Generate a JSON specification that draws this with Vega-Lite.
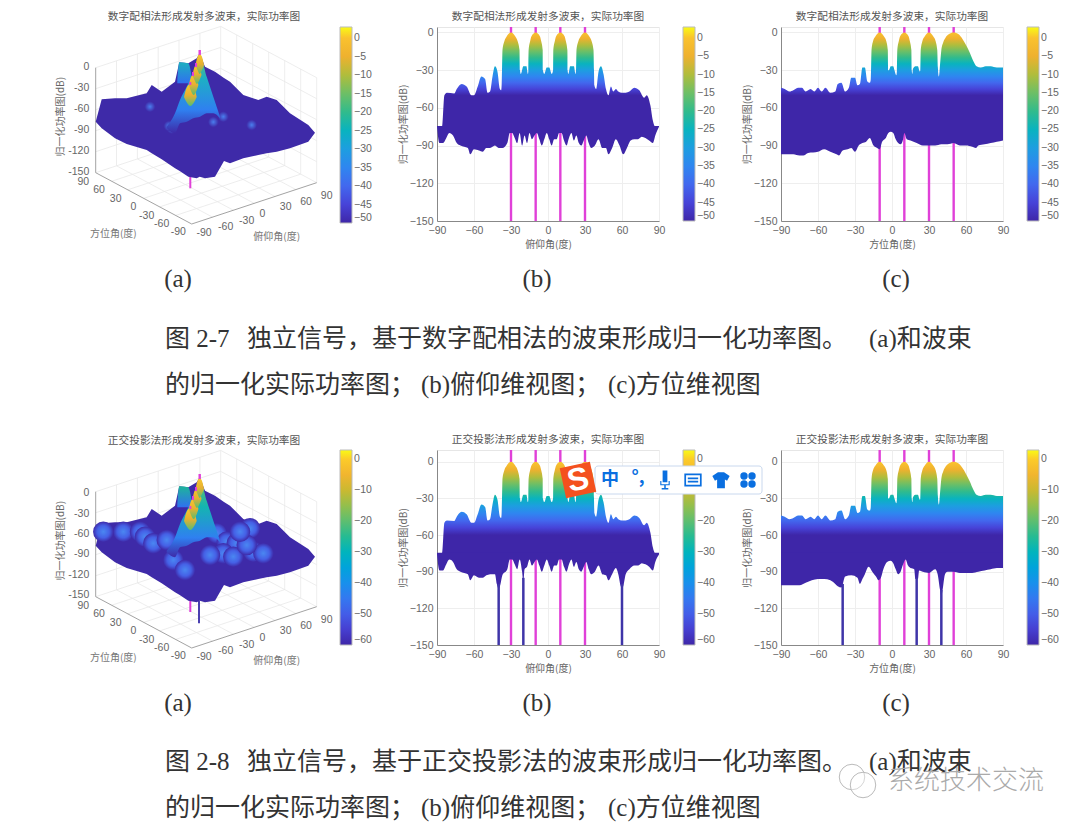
{"$schema":"https://vega.github.io/schema/vega-lite/v6.json","background":"white","padding":0,"autosize":{"type":"pad"},"spacing":{"row":0,"column":122},"columns":3,"bounds":"flush","resolve":{"scale":{"color":"independent"}},
"config":{"view":{"stroke":"#e6e6e6"},"axis":{"labelFont":"Liberation Sans","labelFontSize":10.5,"labelColor":"#666","titleFont":"Noto Sans CJK SC","titleFontSize":10,"titleFontWeight":"normal","titleColor":"#666","gridColor":"#eeeeee","domainColor":"#888","tickSize":0,"tickCount":12,"labelPadding":4,"labelOverlap":false,"labelFlush":false,"labelBound":false},"legend":{"labelFont":"Liberation Sans","labelFontSize":10.5,"labelColor":"#666","gradientStrokeColor":"#bbb","gradientStrokeWidth":1,"labelOverlap":false,"tickCount":12},"title":{"font":"Noto Sans CJK SC","fontSize":10.7,"fontWeight":"normal","color":"#555","anchor":"middle","offset":3}},
"datasets":{
"frameGrid":[{"x":82.7,"y":5.55,"x2":207.7,"y2":46.85},{"x":66.7,"y":14.1,"x2":191.7,"y2":55.4},{"x":50.7,"y":22.65,"x2":175.7,"y2":63.95},{"x":34.7,"y":31.2,"x2":159.7,"y2":72.5},{"x":18.7,"y":39.75,"x2":143.7,"y2":81.05},{"x":2.7,"y":48.3,"x2":127.7,"y2":89.6},{"x":119.5,"y":3.88,"x2":23.5,"y2":55.2},{"x":140.4,"y":10.77,"x2":44.4,"y2":62.07},{"x":161.2,"y":17.65,"x2":65.2,"y2":68.95},{"x":182,"y":24.53,"x2":86,"y2":75.83},{"x":202.9,"y":31.42,"x2":106.9,"y2":82.72},{"x":223.7,"y":38.3,"x2":127.7,"y2":89.6},{"x":23.5,"y":55.2,"x2":23.5,"y2":160.2},{"x":44.4,"y":62.07,"x2":44.4,"y2":167.07},{"x":65.2,"y":68.95,"x2":65.2,"y2":173.95},{"x":86,"y":75.83,"x2":86,"y2":180.83},{"x":106.9,"y":82.72,"x2":106.9,"y2":187.72},{"x":127.7,"y":89.6,"x2":127.7,"y2":194.6},{"x":207.7,"y":46.85,"x2":207.7,"y2":151.85},{"x":191.7,"y":55.4,"x2":191.7,"y2":160.4},{"x":175.7,"y":63.95,"x2":175.7,"y2":168.95},{"x":159.7,"y":72.5,"x2":159.7,"y2":177.5},{"x":143.7,"y":81.05,"x2":143.7,"y2":186.05},{"x":223.7,"y":38.3,"x2":223.7,"y2":143.3},{"x":2.7,"y":69.3,"x2":127.7,"y2":110.6},{"x":2.7,"y":90.3,"x2":127.7,"y2":131.6},{"x":2.7,"y":111.3,"x2":127.7,"y2":152.6},{"x":2.7,"y":132.3,"x2":127.7,"y2":173.6},{"x":2.7,"y":153.3,"x2":127.7,"y2":194.6},{"x":127.7,"y":110.6,"x2":223.7,"y2":59.3},{"x":127.7,"y":131.6,"x2":223.7,"y2":80.3},{"x":127.7,"y":152.6,"x2":223.7,"y2":101.3},{"x":127.7,"y":173.6,"x2":223.7,"y2":122.3},{"x":127.7,"y":194.6,"x2":223.7,"y2":143.3}],
"frameEdge":[{"x":98.7,"y":-3,"x2":2.7,"y2":48.3},{"x":98.7,"y":-3,"x2":223.7,"y2":38.3},{"x":2.7,"y":48.3,"x2":2.7,"y2":153.3}],
"surface":[{"x":2.7,"hi":99.3,"lo":99.3},{"x":8.7,"hi":121.7,"lo":92.7},{"x":22,"hi":122.7,"lo":82.7},{"x":33.7,"hi":122.7,"lo":77},{"x":53.7,"hi":127.7,"lo":71},{"x":58.7,"hi":136,"lo":67.7},{"x":68.7,"hi":129.3,"lo":61.7},{"x":82,"hi":139.3,"lo":52.7},{"x":86.3,"hi":158.7,"lo":50.3},{"x":95.3,"hi":157.7,"lo":44.3},{"x":103.7,"hi":162.7,"lo":42.7},{"x":106.7,"hi":167.7,"lo":44.3},{"x":112,"hi":154.3,"lo":42.7},{"x":122,"hi":149.3,"lo":44.3},{"x":131,"hi":143,"lo":60},{"x":137,"hi":139.3,"lo":57.7},{"x":150.3,"hi":126,"lo":62.7},{"x":165.3,"hi":121,"lo":66},{"x":173.7,"hi":124.3,"lo":67.7},{"x":183.7,"hi":121,"lo":69.3},{"x":197,"hi":107.7,"lo":72.7},{"x":215.3,"hi":96,"lo":79.3},{"x":222,"hi":88.3,"lo":88.3}],
"backRidge":[{"x":84.3,"hi":141,"lo":137.7},{"x":86.3,"hi":158.7,"lo":137.7},{"x":95.3,"hi":157.7,"lo":137.7},{"x":98.7,"hi":144.3,"lo":137.7}],
"wedge":[{"x":73.7,"hi":94.3,"lo":92.7},{"x":82,"hi":107.7,"lo":87.7},{"x":87,"hi":121,"lo":97.7},{"x":93.7,"hi":134.3,"lo":99.3},{"x":100.3,"hi":147.7,"lo":102.7},{"x":107,"hi":166,"lo":104.3},{"x":113.7,"hi":144.3,"lo":107.7},{"x":120.3,"hi":124.3,"lo":107.7},{"x":127,"hi":104.3,"lo":102.7}],
"peaks":[{"p":1,"x":91,"hi":124,"lo":124},{"p":1,"x":93.5,"hi":133,"lo":119},{"p":1,"x":97.3,"hi":137,"lo":115},{"p":1,"x":101.2,"hi":133,"lo":119},{"p":1,"x":103.7,"hi":124,"lo":124},{"p":2,"x":96,"hi":136,"lo":136},{"p":2,"x":98,"hi":144,"lo":130},{"p":2,"x":100.7,"hi":147,"lo":126},{"p":2,"x":103.4,"hi":144,"lo":130},{"p":2,"x":105.4,"hi":136,"lo":136},{"p":3,"x":99.5,"hi":146,"lo":146},{"p":3,"x":101.5,"hi":154,"lo":141},{"p":3,"x":104,"hi":157,"lo":137},{"p":3,"x":106.5,"hi":154,"lo":141},{"p":3,"x":108.5,"hi":146,"lo":146},{"p":4,"x":102.5,"hi":156,"lo":156},{"p":4,"x":104.5,"hi":164,"lo":151},{"p":4,"x":106.7,"hi":167,"lo":147},{"p":4,"x":109,"hi":164,"lo":151},{"p":4,"x":111,"hi":156,"lo":156}],
"marks3d":[{"x":106.7,"y":166,"y2":171},{"x":103,"y":154,"y2":158},{"x":100,"y":145,"y2":149},{"x":97.3,"y":136,"y2":139}],
"labels3d":[{"x":-9.7,"y":38.7,"t":"90"},{"x":6,"y":31,"t":"60"},{"x":22.7,"y":22,"t":"30"},{"x":40.3,"y":14,"t":"0"},{"x":53.7,"y":5.3,"t":"-30"},{"x":68.7,"y":-3,"t":"-60"},{"x":85.3,"y":-11.3,"t":"-90"},{"x":111,"y":-12.3,"t":"-90"},{"x":132.7,"y":-5.7,"t":"-60"},{"x":153.7,"y":0.3,"t":"-30"},{"x":169.3,"y":7,"t":"0"},{"x":192.7,"y":13.7,"t":"30"},{"x":213,"y":19.3,"t":"60"},{"x":233.7,"y":25.3,"t":"90"}],
"titles3d":[{"x":20.3,"y":-13.3,"t":"方位角(度)"},{"x":183.7,"y":-16.3,"t":"俯仰角(度)"}],
"z1":[{"x":-3.7,"y":154.3,"t":"0"},{"x":-3.7,"y":133.3,"t":"-30"},{"x":-3.7,"y":112,"t":"-60"},{"x":-3.7,"y":91,"t":"-90"},{"x":-3.7,"y":70,"t":"-120"},{"x":-3.7,"y":49.3,"t":"-150"}],
"z2":[{"x":-3.7,"y":151.7,"t":"0"},{"x":-3.7,"y":130.7,"t":"-30"},{"x":-3.7,"y":110.7,"t":"-60"},{"x":-3.7,"y":90.7,"t":"-90"},{"x":-3.7,"y":69.7,"t":"-120"},{"x":-3.7,"y":50,"t":"-150"}],
"ztitle":[{"x":-32,"y":104.3,"t":"归一化功率图(dB)"}],
"bumps1":[{"x":78.7,"y":92.7},{"x":76,"y":95},{"x":158.7,"y":96},{"x":120.3,"y":99},{"x":130.3,"y":104.3},{"x":57,"y":114.3}],
"bumps2":[{"x":10.3,"y":113.3},{"x":30.3,"y":113.3},{"x":47,"y":113.3},{"x":52,"y":108.3},{"x":60.3,"y":101.7},{"x":73.7,"y":105},{"x":80.3,"y":85},{"x":92,"y":75},{"x":123.7,"y":111.7},{"x":133.7,"y":103.3},{"x":143.7,"y":101.7},{"x":157,"y":116.7},{"x":160.3,"y":93.3},{"x":170.3,"y":91.7},{"x":130.3,"y":91.7},{"x":140.3,"y":88.3},{"x":153.7,"y":100},{"x":117,"y":90},{"x":147,"y":113.3}],
"legend1":[{"v":-50},{"v":3}],
"legend2":[{"v":-60},{"v":3}],
"beamsB":[{"x":-30},{"x":-10},{"x":10},{"x":30}],
"beamsC":[{"x":-10},{"x":10},{"x":30},{"x":50}],
"upB":[{"x":-90,"y":-75},{"x":-86,"y":-75},{"x":-84,"y":-50},{"x":-82,"y":-48},{"x":-76,"y":-48.5},{"x":-74,"y":-45},{"x":-70,"y":-41},{"x":-66,"y":-43},{"x":-62,"y":-50},{"x":-60,"y":-50},{"x":-57,"y":-43},{"x":-54,"y":-35},{"x":-51,"y":-37},{"x":-49,"y":-48},{"x":-47,"y":-47},{"x":-45,"y":-35},{"x":-43,"y":-27},{"x":-41,"y":-31},{"x":-39,"y":-45},{"x":-38,"y":-46},{"x":-37.6,"y":-42},{"x":-37.3,"y":-30},{"x":-36.9,"y":-14},{"x":-35.4,"y":-7},{"x":-33.4,"y":-3},{"x":-30,"y":0},{"x":-26.6,"y":-3},{"x":-24.6,"y":-7},{"x":-23.1,"y":-14},{"x":-22.7,"y":-30},{"x":-22,"y":-33},{"x":-20,"y":-27},{"x":-17.5,"y":-27},{"x":-16.3,"y":-33},{"x":-15.9,"y":-30},{"x":-15.7,"y":-14},{"x":-14.5,"y":-7},{"x":-13.4,"y":-3},{"x":-10,"y":0},{"x":-6.6,"y":-3},{"x":-5.5,"y":-7},{"x":-4.3,"y":-14},{"x":-4.1,"y":-30},{"x":-3,"y":-33},{"x":-1,"y":-28},{"x":1,"y":-28},{"x":3,"y":-33},{"x":4.1,"y":-30},{"x":4.3,"y":-14},{"x":5.5,"y":-7},{"x":6.6,"y":-3},{"x":10,"y":0},{"x":13.4,"y":-3},{"x":14.5,"y":-7},{"x":15.7,"y":-14},{"x":15.9,"y":-30},{"x":16.5,"y":-33},{"x":18,"y":-27},{"x":21,"y":-27},{"x":22.3,"y":-33},{"x":22.7,"y":-30},{"x":23.1,"y":-14},{"x":24.6,"y":-7},{"x":26.6,"y":-3},{"x":30,"y":0},{"x":33.4,"y":-3},{"x":35.4,"y":-7},{"x":36.9,"y":-14},{"x":37.3,"y":-30},{"x":37.6,"y":-42},{"x":39,"y":-45},{"x":41,"y":-31},{"x":43,"y":-27},{"x":45,"y":-33},{"x":47,"y":-45},{"x":49,"y":-50},{"x":51,"y":-43},{"x":53,"y":-47},{"x":55,"y":-45},{"x":57,"y":-47},{"x":60,"y":-48},{"x":63,"y":-48},{"x":66,"y":-47},{"x":70,"y":-44},{"x":74,"y":-46},{"x":78,"y":-52},{"x":80,"y":-50},{"x":83,"y":-58},{"x":85,"y":-70},{"x":87,"y":-75},{"x":90,"y":-75}],
"upC":[{"x":-90,"y":-44},{"x":-87,"y":-45},{"x":-83,"y":-47},{"x":-80,"y":-46},{"x":-76,"y":-44},{"x":-73,"y":-44},{"x":-70,"y":-47},{"x":-66,"y":-45},{"x":-63,"y":-47},{"x":-60,"y":-44},{"x":-57,"y":-47},{"x":-54,"y":-44},{"x":-50,"y":-48},{"x":-46,"y":-47},{"x":-44,"y":-41},{"x":-41,"y":-40},{"x":-38,"y":-47},{"x":-35,"y":-44},{"x":-33,"y":-36},{"x":-30,"y":-36},{"x":-28,"y":-42},{"x":-26,"y":-41},{"x":-24,"y":-28},{"x":-22,"y":-28},{"x":-20,"y":-39},{"x":-18,"y":-40},{"x":-17.3,"y":-38},{"x":-17,"y":-30},{"x":-16.6,"y":-14},{"x":-15.4,"y":-7},{"x":-13.4,"y":-3},{"x":-10,"y":0},{"x":-6.6,"y":-3},{"x":-4.6,"y":-7},{"x":-3.4,"y":-14},{"x":-3,"y":-30},{"x":-2.5,"y":-30},{"x":-1,"y":-27},{"x":1,"y":-27},{"x":2,"y":-30},{"x":3.5,"y":-34},{"x":4,"y":-30},{"x":4.3,"y":-14},{"x":5.5,"y":-7},{"x":6.6,"y":-3},{"x":10,"y":0},{"x":13.4,"y":-3},{"x":14.5,"y":-7},{"x":15.7,"y":-14},{"x":16,"y":-30},{"x":16.5,"y":-33},{"x":17,"y":-29},{"x":19,"y":-27},{"x":21,"y":-27},{"x":22.5,"y":-31},{"x":23,"y":-30},{"x":23.3,"y":-14},{"x":24.6,"y":-7},{"x":26.6,"y":-3},{"x":30,"y":0},{"x":33.4,"y":-3},{"x":35.4,"y":-7},{"x":36.7,"y":-14},{"x":37.2,"y":-28},{"x":38,"y":-35},{"x":39,"y":-25},{"x":40,"y":-14},{"x":41.5,"y":-8},{"x":43.5,"y":-4},{"x":46,"y":-1.5},{"x":50,"y":0},{"x":54,"y":-1.5},{"x":57,"y":-5},{"x":60,"y":-10},{"x":63,"y":-16},{"x":66,"y":-23},{"x":68.5,"y":-27},{"x":72,"y":-28},{"x":76,"y":-27},{"x":80,"y":-27},{"x":85,"y":-28},{"x":90,"y":-28}],
"loB1":[{"x":-90,"y":-75},{"x":-88,"y":-88},{"x":-85,"y":-88},{"x":-83,"y":-85},{"x":-80,"y":-80},{"x":-77,"y":-82},{"x":-74,"y":-88},{"x":-71,"y":-90},{"x":-68,"y":-91},{"x":-65,"y":-92},{"x":-63,"y":-97},{"x":-60,"y":-93},{"x":-56,"y":-94},{"x":-53,"y":-95},{"x":-50,"y":-92},{"x":-47,"y":-92},{"x":-43,"y":-90},{"x":-40,"y":-92},{"x":-37,"y":-92},{"x":-33,"y":-88},{"x":-31,"y":-80},{"x":-29,"y":-80},{"x":-27,"y":-84},{"x":-25,"y":-88},{"x":-23,"y":-80},{"x":-21,"y":-90},{"x":-19,"y":-82},{"x":-17,"y":-88},{"x":-15,"y":-80},{"x":-13,"y":-85},{"x":-11,"y":-82},{"x":-9,"y":-80},{"x":-7,"y":-85},{"x":-5,"y":-90},{"x":-3,"y":-85},{"x":-1,"y":-80},{"x":1,"y":-85},{"x":3,"y":-90},{"x":5,"y":-85},{"x":7,"y":-85},{"x":9,"y":-80},{"x":11,"y":-80},{"x":13,"y":-86},{"x":15,"y":-90},{"x":17,"y":-84},{"x":19,"y":-80},{"x":21,"y":-86},{"x":23,"y":-82},{"x":25,"y":-88},{"x":27,"y":-90},{"x":29,"y":-86},{"x":31,"y":-82},{"x":33,"y":-88},{"x":35,"y":-92},{"x":38,"y":-90},{"x":41,"y":-85},{"x":44,"y":-92},{"x":47,"y":-92},{"x":49,"y":-97},{"x":52,"y":-92},{"x":55,"y":-85},{"x":58,"y":-90},{"x":61,"y":-97},{"x":64,"y":-92},{"x":67,"y":-86},{"x":70,"y":-85},{"x":73,"y":-85},{"x":76,"y":-83},{"x":79,"y":-84},{"x":82,"y":-86},{"x":85,"y":-88},{"x":87,"y":-82},{"x":90,"y":-75}],
"loC1":[{"x":-90,"y":-97},{"x":-80,"y":-97},{"x":-75,"y":-98},{"x":-72,"y":-98},{"x":-68,"y":-96},{"x":-60,"y":-95},{"x":-55,"y":-93},{"x":-50,"y":-95},{"x":-45,"y":-97},{"x":-43,"y":-98},{"x":-40,"y":-94},{"x":-36,"y":-93},{"x":-33,"y":-92},{"x":-30,"y":-95},{"x":-27,"y":-90},{"x":-24,"y":-88},{"x":-21,"y":-87},{"x":-18,"y":-84},{"x":-15,"y":-90},{"x":-12,"y":-92},{"x":-10,"y":-93},{"x":-8,"y":-87},{"x":-5,"y":-84},{"x":-3,"y":-80},{"x":-1,"y":-79},{"x":1,"y":-80},{"x":3,"y":-85},{"x":5,"y":-88},{"x":7,"y":-89},{"x":9,"y":-85},{"x":10,"y":-80},{"x":12,"y":-85},{"x":15,"y":-86},{"x":20,"y":-88},{"x":25,"y":-90},{"x":30,"y":-90},{"x":35,"y":-90},{"x":40,"y":-89},{"x":45,"y":-89},{"x":50,"y":-88},{"x":55,"y":-90},{"x":60,"y":-90},{"x":65,"y":-91},{"x":68,"y":-92},{"x":70,"y":-90},{"x":75,"y":-89},{"x":80,"y":-88},{"x":85,"y":-87},{"x":90,"y":-86}],
"loB2":[{"x":-90,"y":-76},{"x":-88,"y":-89},{"x":-85,"y":-89},{"x":-83,"y":-85},{"x":-80,"y":-80},{"x":-77,"y":-82},{"x":-74,"y":-88},{"x":-71,"y":-90},{"x":-68,"y":-91},{"x":-65,"y":-92},{"x":-63,"y":-97},{"x":-60,"y":-93},{"x":-56,"y":-95},{"x":-53,"y":-95},{"x":-50,"y":-93},{"x":-47,"y":-92},{"x":-43,"y":-92},{"x":-41.5,"y":-100},{"x":-40,"y":-104},{"x":-38.5,"y":-100},{"x":-37,"y":-93},{"x":-33,"y":-88},{"x":-31,"y":-80},{"x":-29,"y":-80},{"x":-27,"y":-84},{"x":-25,"y":-88},{"x":-23,"y":-80},{"x":-21,"y":-90},{"x":-20,"y":-98},{"x":-19,"y":-88},{"x":-17,"y":-86},{"x":-15,"y":-80},{"x":-13,"y":-85},{"x":-11,"y":-82},{"x":-9,"y":-80},{"x":-7,"y":-85},{"x":-5,"y":-90},{"x":-3,"y":-85},{"x":-1,"y":-80},{"x":1,"y":-85},{"x":3,"y":-90},{"x":5,"y":-85},{"x":7,"y":-85},{"x":9,"y":-80},{"x":11,"y":-80},{"x":13,"y":-86},{"x":15,"y":-90},{"x":17,"y":-84},{"x":19,"y":-80},{"x":21,"y":-86},{"x":23,"y":-82},{"x":25,"y":-88},{"x":27,"y":-90},{"x":29,"y":-86},{"x":31,"y":-82},{"x":33,"y":-88},{"x":35,"y":-92},{"x":38,"y":-90},{"x":41,"y":-85},{"x":44,"y":-92},{"x":47,"y":-93},{"x":49,"y":-97},{"x":52,"y":-92},{"x":55,"y":-87},{"x":57,"y":-92},{"x":59,"y":-102},{"x":60,"y":-104},{"x":61,"y":-102},{"x":63,"y":-92},{"x":66,"y":-88},{"x":70,"y":-85},{"x":73,"y":-85},{"x":76,"y":-83},{"x":79,"y":-84},{"x":82,"y":-86},{"x":85,"y":-89},{"x":87,"y":-82},{"x":90,"y":-76}],
"loC2":[{"x":-90,"y":-101},{"x":-75,"y":-101},{"x":-70,"y":-99},{"x":-65,"y":-97},{"x":-60,"y":-96},{"x":-55,"y":-96},{"x":-50,"y":-97},{"x":-46,"y":-100},{"x":-44,"y":-102},{"x":-41,"y":-103},{"x":-38,"y":-94},{"x":-33,"y":-93},{"x":-28,"y":-95},{"x":-26,"y":-100},{"x":-24,"y":-96},{"x":-22,"y":-92},{"x":-19,"y":-86},{"x":-16,"y":-90},{"x":-13,"y":-94},{"x":-11,"y":-97},{"x":-9,"y":-95},{"x":-7,"y":-88},{"x":-4,"y":-82},{"x":-1,"y":-81},{"x":1,"y":-83},{"x":3,"y":-88},{"x":5,"y":-92},{"x":7,"y":-90},{"x":9,"y":-84},{"x":11,"y":-80},{"x":13,"y":-85},{"x":15,"y":-87},{"x":18,"y":-88},{"x":19,"y":-96},{"x":21,"y":-96},{"x":22,"y":-89},{"x":25,"y":-90},{"x":30,"y":-91},{"x":35,"y":-88},{"x":37,"y":-92},{"x":39,"y":-105},{"x":40,"y":-110},{"x":41,"y":-105},{"x":43,"y":-92},{"x":45,"y":-90},{"x":50,"y":-90},{"x":55,"y":-91},{"x":60,"y":-91},{"x":65,"y":-91},{"x":70,"y":-90},{"x":75,"y":-89},{"x":80,"y":-88},{"x":85,"y":-87},{"x":90,"y":-87}],
"spikeB":[{"x":-40,"y":-100},{"x":-20,"y":-95},{"x":60,"y":-100}],
"spikeC":[{"x":-40,"y":-100},{"x":20,"y":-95},{"x":40,"y":-105}]
},
"concat":[
{"width":222,"height":194,"view":{"stroke":null},"title":"数字配相法形成发射多波束，实际功率图","layer":[
{"data":{"name":"frameGrid"},"mark":{"type":"rule","color":"#e8e8e8","strokeWidth":0.8,"clip":false},"encoding":{"x":{"field":"x","type":"quantitative","scale":{"domain":[0,222],"nice":false,"zero":false},"axis":null},"y":{"field":"y","type":"quantitative","scale":{"domain":[0,194],"nice":false,"zero":false},"axis":null},"x2":{"field":"x2"},"y2":{"field":"y2"}}},
{"data":{"name":"frameEdge"},"mark":{"type":"rule","color":"#999","strokeWidth":0.9},"encoding":{"x":{"field":"x","type":"quantitative"},"y":{"field":"y","type":"quantitative"},"x2":{"field":"x2"},"y2":{"field":"y2"}}},
{"data":{"values":[{"x":97.3,"y":32.7,"y2":44},{"x":106.7,"y":166,"y2":171}]},"mark":{"type":"rule","color":"#e040d8","strokeWidth":2},"encoding":{"x":{"field":"x","type":"quantitative"},"y":{"field":"y","type":"quantitative"},"y2":{"field":"y2"}}},
{"data":{"name":"surface"},"mark":{"type":"area","color":"#3e2aa8"},"encoding":{"x":{"field":"x","type":"quantitative"},"y":{"field":"hi","type":"quantitative"},"y2":{"field":"lo"}}},
{"data":{"name":"bumps1"},"mark":{"type":"point","filled":true,"opacity":1,"shape":"circle","size":110,"color":{"gradient":"radial","stops":[{"offset":0,"color":"#4a80f0"},{"offset":1,"color":"#3e2aa8"}]}},"encoding":{"x":{"field":"x","type":"quantitative"},"y":{"field":"y","type":"quantitative"}}},
{"data":{"name":"backRidge"},"mark":{"type":"area","interpolate":"monotone","color":{"gradient":"linear","x1":0,"y1":0,"x2":0,"y2":1,"stops":[{"offset":0,"color":"#1cb0c0"},{"offset":1,"color":"#3070f0"}]}},"encoding":{"x":{"field":"x","type":"quantitative"},"y":{"field":"hi","type":"quantitative"},"y2":{"field":"lo"}}},
{"data":{"name":"wedge"},"mark":{"type":"area","interpolate":"monotone","color":{"gradient":"linear","x1":0,"y1":0,"x2":0,"y2":1,"stops":[{"offset":0,"color":"#6dbf66"},{"offset":0.3,"color":"#1db0c4"},{"offset":0.7,"color":"#2f80f0"},{"offset":1,"color":"#3e2aa8"}]}},"encoding":{"x":{"field":"x","type":"quantitative"},"y":{"field":"hi","type":"quantitative"},"y2":{"field":"lo"}}},
{"data":{"name":"peaks"},"mark":{"type":"area","interpolate":"monotone","color":{"gradient":"linear","x1":0,"y1":0,"x2":0,"y2":1,"stops":[{"offset":0,"color":"#f9c82e"},{"offset":0.5,"color":"#e8b030"},{"offset":1,"color":"#58bd70"}]}},"encoding":{"detail":{"field":"p"},"x":{"field":"x","type":"quantitative"},"y":{"field":"hi","type":"quantitative"},"y2":{"field":"lo"}}},
{"data":{"name":"marks3d"},"mark":{"type":"rule","color":"#e040d8","strokeWidth":2},"encoding":{"x":{"field":"x","type":"quantitative"},"y":{"field":"y","type":"quantitative"},"y2":{"field":"y2"}}},
{"data":{"name":"labels3d"},"mark":{"type":"text","font":"Liberation Sans","fontSize":10.5,"color":"#666"},"encoding":{"x":{"field":"x","type":"quantitative"},"y":{"field":"y","type":"quantitative"},"text":{"field":"t"}}},
{"data":{"name":"titles3d"},"mark":{"type":"text","font":"Noto Sans CJK SC","fontSize":10,"color":"#777"},"encoding":{"x":{"field":"x","type":"quantitative"},"y":{"field":"y","type":"quantitative"},"text":{"field":"t"}}},
{"data":{"name":"z1"},"mark":{"type":"text","font":"Liberation Sans","fontSize":10.5,"color":"#666","align":"right"},"encoding":{"x":{"field":"x","type":"quantitative"},"y":{"field":"y","type":"quantitative"},"text":{"field":"t"}}},
{"data":{"name":"ztitle"},"mark":{"type":"text","font":"Noto Sans CJK SC","fontSize":10,"color":"#666","angle":270},"encoding":{"x":{"field":"x","type":"quantitative"},"y":{"field":"y","type":"quantitative"},"text":{"field":"t"}}},
{"data":{"name":"legend1"},"mark":{"type":"point","opacity":0},"encoding":{"color":{"field":"v","type":"quantitative","scale":{"domain":[-50,-45,-40,-35,-30,-25,-20,-15,-10,-5,0,3],"range":["#3e26a8","#4743d8","#4268ee","#2f86f0","#1d9ee0","#09b3bf","#31bb8c","#6dbf66","#b0bd3c","#eeb12f","#fac22e","#f9fb15"]},"legend":{"orient":"none","legendX":247,"legendY":0,"gradientLength":196,"gradientThickness":12,"title":null,"values":[-50,-45,-40,-35,-30,-25,-20,-15,-10,-5,0]}}}}
]},
{"width":222,"height":194,"title":"数字配相法形成发射多波束，实际功率图","layer":[
{"data":{"name":"beamsB"},"mark":{"type":"rule","color":"#e040d8","strokeWidth":2.4},"encoding":{"x":{"field":"x","type":"quantitative","scale":{"domain":[-90,90],"nice":false},"axis":{"values":[-90,-60,-30,0,30,60,90],"title":"俯仰角(度)","grid":true}}}},
{"data":{"name":"upB"},"mark":{"type":"area","interpolate":"monotone","color":{"gradient":"linear","x1":0,"y1":0,"x2":0,"y2":1,"stops":[{"offset":0,"color":"#fac22e"},{"offset":0.067,"color":"#eeb12f"},{"offset":0.133,"color":"#b0bd3c"},{"offset":0.2,"color":"#6dbf66"},{"offset":0.267,"color":"#31bb8c"},{"offset":0.333,"color":"#09b3bf"},{"offset":0.4,"color":"#1d9ee0"},{"offset":0.467,"color":"#2f86f0"},{"offset":0.533,"color":"#4268ee"},{"offset":0.6,"color":"#4743d8"},{"offset":0.667,"color":"#3e26a8"},{"offset":1,"color":"#3e26a8"}]}},"encoding":{"x":{"field":"x","type":"quantitative"},"y":{"field":"y","type":"quantitative","scale":{"domain":[-150,4.3],"nice":false,"zero":false},"axis":{"values":[0,-30,-60,-90,-120,-150],"title":"归一化功率图(dB)","grid":true,"titlePadding":1}},"y2":{"datum":-75}}},
{"data":{"name":"loB1"},"mark":{"type":"area","interpolate":"monotone","color":"#3e26a8"},"encoding":{"x":{"field":"x","type":"quantitative"},"y":{"field":"y","type":"quantitative"},"y2":{"datum":-74.5}}},
{"data":{"name":"legend1"},"mark":{"type":"point","opacity":0},"encoding":{"color":{"field":"v","type":"quantitative","scale":{"domain":[-50,-45,-40,-35,-30,-25,-20,-15,-10,-5,0,3],"range":["#3e26a8","#4743d8","#4268ee","#2f86f0","#1d9ee0","#09b3bf","#31bb8c","#6dbf66","#b0bd3c","#eeb12f","#fac22e","#f9fb15"]},"legend":{"orient":"none","legendX":246,"legendY":0,"gradientLength":194,"gradientThickness":12,"title":null,"values":[-50,-45,-40,-35,-30,-25,-20,-15,-10,-5,0]}}}}
]},
{"width":222,"height":194,"title":"数字配相法形成发射多波束，实际功率图","layer":[
{"data":{"name":"beamsC"},"mark":{"type":"rule","color":"#e040d8","strokeWidth":2.4},"encoding":{"x":{"field":"x","type":"quantitative","scale":{"domain":[-90,90],"nice":false},"axis":{"values":[-90,-60,-30,0,30,60,90],"title":"方位角(度)","grid":true}}}},
{"data":{"name":"upC"},"mark":{"type":"area","interpolate":"monotone","color":{"gradient":"linear","x1":0,"y1":0,"x2":0,"y2":1,"stops":[{"offset":0,"color":"#fac22e"},{"offset":0.067,"color":"#eeb12f"},{"offset":0.133,"color":"#b0bd3c"},{"offset":0.2,"color":"#6dbf66"},{"offset":0.267,"color":"#31bb8c"},{"offset":0.333,"color":"#09b3bf"},{"offset":0.4,"color":"#1d9ee0"},{"offset":0.467,"color":"#2f86f0"},{"offset":0.533,"color":"#4268ee"},{"offset":0.6,"color":"#4743d8"},{"offset":0.667,"color":"#3e26a8"},{"offset":1,"color":"#3e26a8"}]}},"encoding":{"x":{"field":"x","type":"quantitative"},"y":{"field":"y","type":"quantitative","scale":{"domain":[-150,4.3],"nice":false,"zero":false},"axis":{"values":[0,-30,-60,-90,-120,-150],"title":"归一化功率图(dB)","grid":true,"titlePadding":1}},"y2":{"datum":-75}}},
{"data":{"name":"loC1"},"mark":{"type":"area","interpolate":"monotone","color":"#3e26a8"},"encoding":{"x":{"field":"x","type":"quantitative"},"y":{"field":"y","type":"quantitative"},"y2":{"datum":-74.5}}},
{"data":{"name":"legend1"},"mark":{"type":"point","opacity":0},"encoding":{"color":{"field":"v","type":"quantitative","scale":{"domain":[-50,-45,-40,-35,-30,-25,-20,-15,-10,-5,0,3],"range":["#3e26a8","#4743d8","#4268ee","#2f86f0","#1d9ee0","#09b3bf","#31bb8c","#6dbf66","#b0bd3c","#eeb12f","#fac22e","#f9fb15"]},"legend":{"orient":"none","legendX":246,"legendY":0,"gradientLength":194,"gradientThickness":12,"title":null,"values":[-50,-45,-40,-35,-30,-25,-20,-15,-10,-5,0]}}}}
]},
{"width":222,"height":229,"view":{"stroke":null},"data":{"values":[{"x":178,"y":279,"t":"(a)"}]},"layer":[
{"mark":{"type":"text","font":"Liberation Serif","fontSize":25,"color":"#333"},"encoding":{"x":{"field":"x","type":"quantitative","scale":{"domain":[93,315],"nice":false,"zero":false},"axis":null},"y":{"field":"y","type":"quantitative","scale":{"domain":[450,221],"nice":false,"zero":false},"axis":null},"text":{"field":"t"}}},
{"data":{"values":[{"x":165,"y":339,"t":"图 2-7"},{"x":247,"y":339,"t":"独立信号，基于数字配相法的波束形成归一化功率图。"},{"x":869,"y":339,"t":"(a)和波束"},{"x":165,"y":385,"t":"的归一化实际功率图；"},{"x":421,"y":385,"t":"(b)俯仰维视图；"},{"x":608,"y":385,"t":"(c)方位维视图"}]},"mark":{"type":"text","font":"Liberation Serif, Noto Sans CJK SC","fontSize":25,"color":"#333","align":"left"},"encoding":{"x":{"field":"x","type":"quantitative"},"y":{"field":"y","type":"quantitative"},"text":{"field":"t"}}}
]},
{"width":222,"height":229,"view":{"stroke":null},"data":{"values":[{"x":537,"y":279,"t":"(b)"}]},"mark":{"type":"text","font":"Liberation Serif","fontSize":25,"color":"#333"},"encoding":{"x":{"field":"x","type":"quantitative","scale":{"domain":[437,659],"nice":false,"zero":false},"axis":null},"y":{"field":"y","type":"quantitative","scale":{"domain":[450,221],"nice":false,"zero":false},"axis":null},"text":{"field":"t"}}},
{"width":222,"height":229,"view":{"stroke":null},"data":{"values":[{"x":896,"y":279,"t":"(c)"}]},"mark":{"type":"text","font":"Liberation Serif","fontSize":25,"color":"#333"},"encoding":{"x":{"field":"x","type":"quantitative","scale":{"domain":[781,1003],"nice":false,"zero":false},"axis":null},"y":{"field":"y","type":"quantitative","scale":{"domain":[450,221],"nice":false,"zero":false},"axis":null},"text":{"field":"t"}}},
{"width":222,"height":195,"view":{"stroke":null},"title":"正交投影法形成发射多波束，实际功率图","layer":[
{"data":{"name":"frameGrid"},"mark":{"type":"rule","color":"#e8e8e8","strokeWidth":0.8},"encoding":{"x":{"field":"x","type":"quantitative","scale":{"domain":[0,222],"nice":false,"zero":false},"axis":null},"y":{"field":"y","type":"quantitative","scale":{"domain":[0,195],"nice":false,"zero":false},"axis":null},"x2":{"field":"x2"},"y2":{"field":"y2"}}},
{"data":{"name":"frameEdge"},"mark":{"type":"rule","color":"#999","strokeWidth":0.9},"encoding":{"x":{"field":"x","type":"quantitative"},"y":{"field":"y","type":"quantitative"},"x2":{"field":"x2"},"y2":{"field":"y2"}}},
{"data":{"values":[{"x":97.3,"y":33,"y2":44},{"x":106.7,"y":166,"y2":171}]},"mark":{"type":"rule","color":"#e040d8","strokeWidth":2},"encoding":{"x":{"field":"x","type":"quantitative"},"y":{"field":"y","type":"quantitative"},"y2":{"field":"y2"}}},
{"data":{"values":[{"x":106,"y":21.7,"y2":44}]},"mark":{"type":"rule","color":"#4a3fb0","strokeWidth":2},"encoding":{"x":{"field":"x","type":"quantitative"},"y":{"field":"y","type":"quantitative"},"y2":{"field":"y2"}}},
{"data":{"name":"surface"},"mark":{"type":"area","color":"#3e2aa8"},"encoding":{"x":{"field":"x","type":"quantitative"},"y":{"field":"hi","type":"quantitative"},"y2":{"field":"lo"}}},
{"data":{"name":"bumps2"},"mark":{"type":"point","filled":true,"opacity":1,"shape":"circle","size":420,"color":{"gradient":"radial","stops":[{"offset":0,"color":"#4a88f2"},{"offset":0.6,"color":"#4560e6"},{"offset":1,"color":"#3e2aa8"}]}},"encoding":{"x":{"field":"x","type":"quantitative"},"y":{"field":"y","type":"quantitative"}}},
{"data":{"name":"backRidge"},"mark":{"type":"area","interpolate":"monotone","color":{"gradient":"linear","x1":0,"y1":0,"x2":0,"y2":1,"stops":[{"offset":0,"color":"#1db59a"},{"offset":1,"color":"#3070f0"}]}},"encoding":{"x":{"field":"x","type":"quantitative"},"y":{"field":"hi","type":"quantitative"},"y2":{"field":"lo"}}},
{"data":{"name":"wedge"},"mark":{"type":"area","interpolate":"monotone","color":{"gradient":"linear","x1":0,"y1":0,"x2":0,"y2":1,"stops":[{"offset":0,"color":"#6dbf66"},{"offset":0.35,"color":"#14b5b0"},{"offset":0.75,"color":"#2f80f0"},{"offset":1,"color":"#3e2aa8"}]}},"encoding":{"x":{"field":"x","type":"quantitative"},"y":{"field":"hi","type":"quantitative"},"y2":{"field":"lo"}}},
{"data":{"name":"peaks"},"mark":{"type":"area","interpolate":"monotone","color":{"gradient":"linear","x1":0,"y1":0,"x2":0,"y2":1,"stops":[{"offset":0,"color":"#f9c82e"},{"offset":0.5,"color":"#e8b030"},{"offset":1,"color":"#58bd70"}]}},"encoding":{"detail":{"field":"p"},"x":{"field":"x","type":"quantitative"},"y":{"field":"hi","type":"quantitative"},"y2":{"field":"lo"}}},
{"data":{"name":"marks3d"},"mark":{"type":"rule","color":"#e040d8","strokeWidth":2},"encoding":{"x":{"field":"x","type":"quantitative"},"y":{"field":"y","type":"quantitative"},"y2":{"field":"y2"}}},
{"data":{"name":"labels3d"},"mark":{"type":"text","font":"Liberation Sans","fontSize":10.5,"color":"#666"},"encoding":{"x":{"field":"x","type":"quantitative"},"y":{"field":"y","type":"quantitative"},"text":{"field":"t"}}},
{"data":{"name":"titles3d"},"mark":{"type":"text","font":"Noto Sans CJK SC","fontSize":10,"color":"#777"},"encoding":{"x":{"field":"x","type":"quantitative"},"y":{"field":"y","type":"quantitative"},"text":{"field":"t"}}},
{"data":{"name":"z2"},"mark":{"type":"text","font":"Liberation Sans","fontSize":10.5,"color":"#666","align":"right"},"encoding":{"x":{"field":"x","type":"quantitative"},"y":{"field":"y","type":"quantitative"},"text":{"field":"t"}}},
{"data":{"name":"ztitle"},"mark":{"type":"text","font":"Noto Sans CJK SC","fontSize":10,"color":"#666","angle":270},"encoding":{"x":{"field":"x","type":"quantitative"},"y":{"field":"y","type":"quantitative"},"text":{"field":"t"}}},
{"data":{"name":"legend2"},"mark":{"type":"point","opacity":0},"encoding":{"color":{"field":"v","type":"quantitative","scale":{"domain":[-60,-54.1,-48.1,-42.2,-36.2,-30.3,-24.3,-18.4,-12.5,-6.5,-0.6,3],"range":["#3e26a8","#4743d8","#4268ee","#2f86f0","#1d9ee0","#09b3bf","#31bb8c","#6dbf66","#b0bd3c","#eeb12f","#fac22e","#f9fb15"]},"legend":{"orient":"none","legendX":247,"legendY":0,"gradientLength":195,"gradientThickness":12,"title":null,"values":[-60,-50,-40,-30,-20,-10,0]}}}}
]},
{"width":222,"height":195,"title":"正交投影法形成发射多波束，实际功率图","layer":[
{"data":{"name":"beamsB"},"mark":{"type":"rule","color":"#e040d8","strokeWidth":2.4},"encoding":{"x":{"field":"x","type":"quantitative","scale":{"domain":[-90,90],"nice":false},"axis":{"values":[-90,-60,-30,0,30,60,90],"title":"俯仰角(度)","grid":true}}}},
{"data":{"name":"upB"},"mark":{"type":"area","interpolate":"monotone","color":{"gradient":"linear","x1":0,"y1":0,"x2":0,"y2":1,"stops":[{"offset":0.008,"color":"#fac22e"},{"offset":0.087,"color":"#eeb12f"},{"offset":0.167,"color":"#b0bd3c"},{"offset":0.245,"color":"#6dbf66"},{"offset":0.324,"color":"#31bb8c"},{"offset":0.404,"color":"#09b3bf"},{"offset":0.483,"color":"#1d9ee0"},{"offset":0.563,"color":"#2f86f0"},{"offset":0.641,"color":"#4268ee"},{"offset":0.721,"color":"#4743d8"},{"offset":0.8,"color":"#3e26a8"},{"offset":1,"color":"#3e26a8"}]}},"encoding":{"x":{"field":"x","type":"quantitative"},"y":{"field":"y","type":"quantitative","scale":{"domain":[-150,9.6],"nice":false,"zero":false},"axis":{"values":[0,-30,-60,-90,-120,-150],"title":"归一化功率图(dB)","grid":true,"titlePadding":1}},"y2":{"datum":-75}}},
{"data":{"name":"loB2"},"mark":{"type":"area","interpolate":"monotone","color":"#3e26a8"},"encoding":{"x":{"field":"x","type":"quantitative"},"y":{"field":"y","type":"quantitative"},"y2":{"datum":-74.5}}},
{"data":{"name":"spikeB"},"mark":{"type":"rule","color":"#3f35a8","strokeWidth":2.5},"encoding":{"x":{"field":"x","type":"quantitative"},"y":{"field":"y","type":"quantitative"},"y2":{"datum":-150}}},
{"data":{"name":"legend2"},"mark":{"type":"point","opacity":0},"encoding":{"color":{"field":"v","type":"quantitative","scale":{"domain":[-60,-54.1,-48.1,-42.2,-36.2,-30.3,-24.3,-18.4,-12.5,-6.5,-0.6,3],"range":["#3e26a8","#4743d8","#4268ee","#2f86f0","#1d9ee0","#09b3bf","#31bb8c","#6dbf66","#b0bd3c","#eeb12f","#fac22e","#f9fb15"]},"legend":{"orient":"none","legendX":246,"legendY":0,"gradientLength":195,"gradientThickness":12,"title":null,"values":[-60,-50,-40,-30,-20,-10,0]}}}}
]},
{"width":222,"height":195,"title":"正交投影法形成发射多波束，实际功率图","layer":[
{"data":{"name":"beamsC"},"mark":{"type":"rule","color":"#e040d8","strokeWidth":2.4},"encoding":{"x":{"field":"x","type":"quantitative","scale":{"domain":[-90,90],"nice":false},"axis":{"values":[-90,-60,-30,0,30,60,90],"title":"方位角(度)","grid":true}}}},
{"data":{"name":"upC"},"mark":{"type":"area","interpolate":"monotone","color":{"gradient":"linear","x1":0,"y1":0,"x2":0,"y2":1,"stops":[{"offset":0.008,"color":"#fac22e"},{"offset":0.087,"color":"#eeb12f"},{"offset":0.167,"color":"#b0bd3c"},{"offset":0.245,"color":"#6dbf66"},{"offset":0.324,"color":"#31bb8c"},{"offset":0.404,"color":"#09b3bf"},{"offset":0.483,"color":"#1d9ee0"},{"offset":0.563,"color":"#2f86f0"},{"offset":0.641,"color":"#4268ee"},{"offset":0.721,"color":"#4743d8"},{"offset":0.8,"color":"#3e26a8"},{"offset":1,"color":"#3e26a8"}]}},"encoding":{"x":{"field":"x","type":"quantitative"},"y":{"field":"y","type":"quantitative","scale":{"domain":[-150,9.6],"nice":false,"zero":false},"axis":{"values":[0,-30,-60,-90,-120,-150],"title":"归一化功率图(dB)","grid":true,"titlePadding":1}},"y2":{"datum":-75}}},
{"data":{"name":"loC2"},"mark":{"type":"area","interpolate":"monotone","color":"#3e26a8"},"encoding":{"x":{"field":"x","type":"quantitative"},"y":{"field":"y","type":"quantitative"},"y2":{"datum":-74.5}}},
{"data":{"name":"spikeC"},"mark":{"type":"rule","color":"#3f35a8","strokeWidth":2.5},"encoding":{"x":{"field":"x","type":"quantitative"},"y":{"field":"y","type":"quantitative"},"y2":{"datum":-150}}},
{"data":{"name":"legend2"},"mark":{"type":"point","opacity":0},"encoding":{"color":{"field":"v","type":"quantitative","scale":{"domain":[-60,-54.1,-48.1,-42.2,-36.2,-30.3,-24.3,-18.4,-12.5,-6.5,-0.6,3],"range":["#3e26a8","#4743d8","#4268ee","#2f86f0","#1d9ee0","#09b3bf","#31bb8c","#6dbf66","#b0bd3c","#eeb12f","#fac22e","#f9fb15"]},"legend":{"orient":"none","legendX":246,"legendY":0,"gradientLength":195,"gradientThickness":12,"title":null,"values":[-60,-50,-40,-30,-20,-10,0]}}}}
]},
{"width":222,"height":184,"view":{"stroke":null},"data":{"values":[{"x":178,"y":703,"t":"(a)"}]},"layer":[
{"mark":{"type":"text","font":"Liberation Serif","fontSize":25,"color":"#333"},"encoding":{"x":{"field":"x","type":"quantitative","scale":{"domain":[93,315],"nice":false,"zero":false},"axis":null},"y":{"field":"y","type":"quantitative","scale":{"domain":[829,645],"nice":false,"zero":false},"axis":null},"text":{"field":"t"}}},
{"data":{"values":[{"x":0,"y":0,"x2":1080,"y2":829}]},"mark":{"type":"rect","opacity":0},"encoding":{"x":{"field":"x","type":"quantitative"},"y":{"field":"y","type":"quantitative"},"x2":{"field":"x2"},"y2":{"field":"y2"}}},
{"data":{"values":[{"x":165,"y":762,"t":"图 2-8"},{"x":247,"y":762,"t":"独立信号，基于正交投影法的波束形成归一化功率图。"},{"x":869,"y":762,"t":"(a)和波束"},{"x":165,"y":808,"t":"的归一化实际功率图；"},{"x":421,"y":808,"t":"(b)俯仰维视图；"},{"x":608,"y":808,"t":"(c)方位维视图"}]},"mark":{"type":"text","font":"Liberation Serif, Noto Sans CJK SC","fontSize":25,"color":"#333","align":"left"},"encoding":{"x":{"field":"x","type":"quantitative"},"y":{"field":"y","type":"quantitative"},"text":{"field":"t"}}},
{"data":{"values":[{"x":852,"y":777},{"x":863,"y":785}]},"mark":{"type":"circle","size":650,"fill":"#ffffff","fillOpacity":0.4,"stroke":"#bbb","strokeWidth":1},"encoding":{"x":{"field":"x","type":"quantitative"},"y":{"field":"y","type":"quantitative"}}},
{"data":{"values":[{"x":966,"y":781,"t":"系统技术交流"}]},"mark":{"type":"text","font":"Noto Sans CJK SC","fontSize":26,"fontWeight":300,"color":"#aaaaaa"},"encoding":{"x":{"field":"x","type":"quantitative"},"y":{"field":"y","type":"quantitative"},"text":{"field":"t"}}},
{"data":{"values":[{"x":595,"y":466,"x2":762,"y2":494}]},"mark":{"type":"rect","fill":"#ffffff","stroke":"#c9d8ee","strokeWidth":1,"cornerRadius":3},"encoding":{"x":{"field":"x","type":"quantitative"},"y":{"field":"y","type":"quantitative"},"x2":{"field":"x2"},"y2":{"field":"y2"}}},
{"data":{"values":[{"x":578,"y":480}]},"mark":{"type":"point","shape":"square","filled":true,"size":950,"angle":348,"color":"#f4511e","opacity":1},"encoding":{"x":{"field":"x","type":"quantitative"},"y":{"field":"y","type":"quantitative"}}},
{"data":{"values":[{"x":578,"y":480,"t":"S"}]},"mark":{"type":"text","font":"Liberation Sans","fontSize":32,"fontWeight":"bold","color":"#ffffff","angle":348},"encoding":{"x":{"field":"x","type":"quantitative"},"y":{"field":"y","type":"quantitative"},"text":{"field":"t"}}},
{"data":{"values":[{"x":610,"y":480,"t":"中"},{"x":638,"y":478,"t":"°,"}]},"mark":{"type":"text","font":"Noto Sans CJK SC","fontSize":18,"fontWeight":"bold","color":"#0a6fe0"},"encoding":{"x":{"field":"x","type":"quantitative"},"y":{"field":"y","type":"quantitative"},"text":{"field":"t"}}},
{"data":{"values":[{"x":665,"y":480}]},"mark":{"type":"point","filled":true,"opacity":1,"color":"#0a6fe0","size":360,"shape":"M-0.25,-1L0.25,-1L0.25,0.25L-0.25,0.25Z M-0.5,0.1L-0.38,0.1L-0.38,0.45L0.38,0.45L0.38,0.1L0.5,0.1L0.5,0.55L0.08,0.55L0.08,0.85L0.35,0.85L0.35,1L-0.35,1L-0.35,0.85L-0.08,0.85L-0.08,0.55L-0.5,0.55Z"},"encoding":{"x":{"field":"x","type":"quantitative"},"y":{"field":"y","type":"quantitative"}}},
{"data":{"values":[{"x":693,"y":480}]},"mark":{"type":"point","filled":true,"opacity":1,"color":"#0a6fe0","size":300,"shape":"M-1,-0.75L1,-0.75L1,0.75L-1,0.75Z M-0.8,-0.55L-0.8,0.55L0.8,0.55L0.8,-0.55Z M-0.6,-0.3L0.6,-0.3L0.6,-0.1L-0.6,-0.1Z M-0.6,0.1L0.6,0.1L0.6,0.3L-0.6,0.3Z"},"encoding":{"x":{"field":"x","type":"quantitative"},"y":{"field":"y","type":"quantitative"}}},
{"data":{"values":[{"x":721,"y":480}]},"mark":{"type":"point","filled":true,"opacity":1,"color":"#0a6fe0","size":300,"shape":"M-0.35,-0.9L0.35,-0.9L1,-0.45L0.7,0.1L0.45,-0.05L0.45,0.95L-0.45,0.95L-0.45,-0.05L-0.7,0.1L-1,-0.45Z"},"encoding":{"x":{"field":"x","type":"quantitative"},"y":{"field":"y","type":"quantitative"}}},
{"data":{"values":[{"x":744,"y":476},{"x":752,"y":476},{"x":744,"y":484},{"x":752,"y":484}]},"mark":{"type":"circle","opacity":1,"color":"#0a6fe0","size":55},"encoding":{"x":{"field":"x","type":"quantitative"},"y":{"field":"y","type":"quantitative"}}}
]},
{"width":222,"height":184,"view":{"stroke":null},"data":{"values":[{"x":537,"y":703,"t":"(b)"}]},"mark":{"type":"text","font":"Liberation Serif","fontSize":25,"color":"#333"},"encoding":{"x":{"field":"x","type":"quantitative","scale":{"domain":[437,659],"nice":false,"zero":false},"axis":null},"y":{"field":"y","type":"quantitative","scale":{"domain":[829,645],"nice":false,"zero":false},"axis":null},"text":{"field":"t"}}},
{"width":222,"height":184,"view":{"stroke":null},"data":{"values":[{"x":896,"y":703,"t":"(c)"}]},"mark":{"type":"text","font":"Liberation Serif","fontSize":25,"color":"#333"},"encoding":{"x":{"field":"x","type":"quantitative","scale":{"domain":[781,1003],"nice":false,"zero":false},"axis":null},"y":{"field":"y","type":"quantitative","scale":{"domain":[829,645],"nice":false,"zero":false},"axis":null},"text":{"field":"t"}}}
]}
